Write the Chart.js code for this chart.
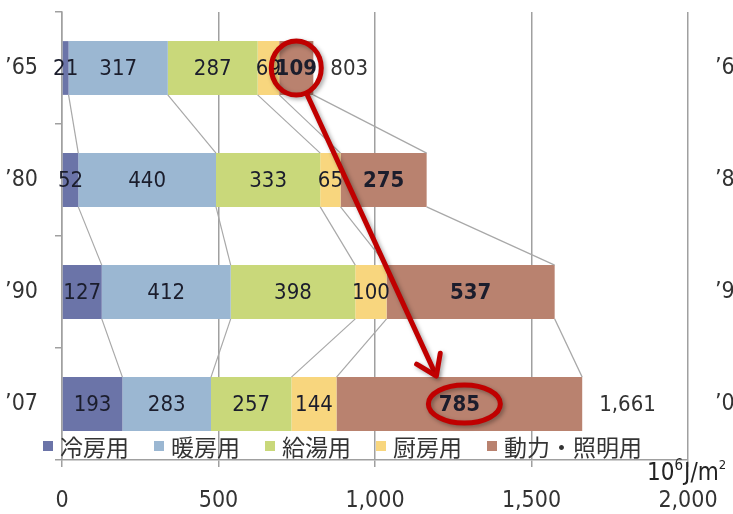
<!DOCTYPE html>
<html><head><meta charset="utf-8">
<script src="https://cdn.jsdelivr.net/npm/chart.js@4.4.1/dist/chart.umd.min.js"></script>
<style>html,body{margin:0;padding:0;background:#fff;overflow:hidden}canvas{display:block}</style>
</head><body>
<canvas id="c" width="733" height="514"></canvas>
<script>
// ---- data ----
const categories = ['\u201965', '\u201980', '\u201990', '\u201907'];
const seriesNames = ['冷房用', '暖房用', '給湯用', '厨房用', '動力・照明用'];
const cooling = [21, 52, 127, 193];
const heating = [317, 440, 412, 283];
const hotWater = [287, 333, 398, 257];
const kitchen = [69, 65, 100, 144];
const powerLighting = [109, 275, 537, 785];
const totalLabels = ['803', '', '', '1,661'];
const xTickValues = [0, 500, 1000, 1500, 2000];
const xTickLabels = ['0', '500', '1,000', '1,500', '2,000'];
const unitBase = '10', unitExp = '6', unitRest = 'J/m', unitExp2 = '2';
const highlightSeries = 4;            // 動力・照明用
const highlightFrom = 0, highlightTo = 3; // '65 -> '07

// ---- style ----
const colors = ['#6b74a8', '#9bb7d2', '#c9d87a', '#f8d67e', '#b9826f'];
const gridColor = '#a0a0a0';
const NUM_FONT = "'DejaVu Sans Condensed', 'Liberation Sans Narrow', 'Noto Sans CJK JP', sans-serif";
const CJK_FONT = "'Noto Sans CJK JP', sans-serif";
const boldSeries = [false, false, false, false, true];

const seriesValues = [cooling, heating, hotWater, kitchen, powerLighting];

const connectorPlugin = {
  id: 'connectors',
  afterDatasetsDraw(chart) {
    const ctx = chart.ctx;
    ctx.save();
    ctx.strokeStyle = '#a8a8a8';
    ctx.lineWidth = 1.2;
    for (let k = 0; k < chart.data.datasets.length; k++) {
      const meta = chart.getDatasetMeta(k);
      for (let i = 0; i < categories.length - 1; i++) {
        const a = meta.data[i], b = meta.data[i + 1];
        ctx.beginPath();
        ctx.moveTo(a.x, a.y + a.height / 2);
        ctx.lineTo(b.x, b.y - b.height / 2);
        ctx.stroke();
      }
    }
    ctx.restore();
  }
};

const labelPlugin = {
  id: 'segLabels',
  afterDatasetsDraw(chart) {
    const ctx = chart.ctx;
    ctx.save();
    ctx.textAlign = 'center';
    ctx.textBaseline = 'middle';
    chart.data.datasets.forEach((ds, k) => {
      const meta = chart.getDatasetMeta(k);
      meta.data.forEach((el, i) => {
        ctx.font = (boldSeries[k] ? 'bold ' : '') + '22px ' + NUM_FONT;
        ctx.fillStyle = '#1b1d2c';
        ctx.fillText(String(ds.data[i]), (el.x + el.base) / 2, el.y + 1);
      });
    });
    // totals
    const last = chart.getDatasetMeta(chart.data.datasets.length - 1);
    ctx.textAlign = 'left';
    ctx.font = '22px ' + NUM_FONT;
    ctx.fillStyle = '#333';
    totalLabels.forEach((t, i) => {
      if (!t) return;
      const el = last.data[i];
      ctx.fillText(t, el.x + 17, el.y + 1);
    });
    ctx.restore();
  }
};

const legendPlugin = {
  id: 'innerLegend',
  afterDraw(chart) {
    const ctx = chart.ctx;
    ctx.save();
    ctx.font = '23px ' + CJK_FONT;
    ctx.textBaseline = 'middle';
    ctx.textAlign = 'left';
    let x = 43;
    const y = chart.chartArea.bottom - 14;
    chart.data.datasets.forEach((ds) => {
      ctx.fillStyle = ds.backgroundColor;
      ctx.fillRect(x, y - 5, 10, 10);
      ctx.fillStyle = '#333';
      ctx.fillText(ds.label, x + 17, y + 1);
      x += 17 + ctx.measureText(ds.label).width + 25;
    });
    // unit label
    ctx.fillStyle = '#222';
    ctx.textBaseline = 'alphabetic';
    const base = chart.chartArea.bottom + 20;
    let ux = 647;
    ctx.font = '24px ' + NUM_FONT;
    ctx.fillText(unitBase, ux, base); ux += ctx.measureText(unitBase).width;
    ctx.font = '15px ' + NUM_FONT;
    ctx.fillText(unitExp, ux, base - 10); ux += ctx.measureText(unitExp).width + 1;
    ctx.font = '24px ' + NUM_FONT;
    ctx.fillText(unitRest, ux, base); ux += ctx.measureText(unitRest).width;
    ctx.font = '13px ' + NUM_FONT;
    ctx.fillText(unitExp2, ux, base - 11);
    ctx.restore();
  }
};

const annotationPlugin = {
  id: 'highlight',
  afterDraw(chart) {
    const ctx = chart.ctx;
    const meta = chart.getDatasetMeta(highlightSeries);
    const a = meta.data[highlightFrom], b = meta.data[highlightTo];
    const c1 = { x: (a.x + a.base) / 2, y: a.y, rx: 25, ry: 27 };
    const c2 = { x: (b.x + b.base) / 2 + 5, y: b.y, rx: 36, ry: 19 };
    ctx.save();
    ctx.shadowColor = 'rgba(0,0,0,0.35)';
    ctx.shadowBlur = 4;
    ctx.shadowOffsetX = 2;
    ctx.shadowOffsetY = 2;
    ctx.strokeStyle = '#c00000';
    ctx.lineWidth = 5;
    [c1, c2].forEach(c => {
      ctx.beginPath();
      ctx.ellipse(c.x, c.y, c.rx, c.ry, 0, 0, Math.PI * 2);
      ctx.stroke();
    });
    const sx = c1.x + 11, sy = c1.y + c1.ry;
    const ex = c2.x - 28, ey = c2.y - 28;
    const ang = Math.atan2(ey - sy, ex - sx);
    ctx.lineCap = 'round';
    ctx.lineJoin = 'round';
    ctx.beginPath();
    ctx.moveTo(sx, sy);
    ctx.lineTo(ex - 4 * Math.cos(ang), ey - 4 * Math.sin(ang));
    ctx.stroke();
    const L = 23, spread = 0.6;
    ctx.beginPath();
    ctx.moveTo(ex - L * Math.cos(ang - spread), ey - L * Math.sin(ang - spread));
    ctx.lineTo(ex, ey);
    ctx.lineTo(ex - L * Math.cos(ang + spread), ey - L * Math.sin(ang + spread));
    ctx.stroke();
    ctx.restore();
  }
};

const noVPad = s => { s.paddingTop = 0; s.paddingBottom = 0; };

new Chart(document.getElementById('c'), {
  type: 'bar',
  data: {
    labels: categories,
    datasets: seriesNames.map((name, k) => ({
      label: name,
      data: seriesValues[k],
      backgroundColor: colors[k],
      borderWidth: 0,
      barPercentage: 0.48,
      categoryPercentage: 1.0
    }))
  },
  options: {
    indexAxis: 'y',
    responsive: false,
    animation: false,
    devicePixelRatio: 1,
    layout: { padding: { top: 12, left: 0, right: 0, bottom: 0 } },
    plugins: { legend: { display: false }, tooltip: { enabled: false } },
    scales: {
      x: {
        stacked: true, min: 0, max: 2000, position: 'bottom',
        afterBuildTicks: s => { s.ticks = xTickValues.map(v => ({ value: v })); },
        grid: { color: gridColor, lineWidth: 1.5, tickLength: 7, drawTicks: true },
        border: { display: true, color: gridColor, width: 1.5 },
        ticks: {
          callback: (v, i) => xTickLabels[i],
          font: { family: NUM_FONT, size: 23 }, color: '#333', padding: 20, maxRotation: 0
        },
        afterFit: s => { s.height = 54; s.paddingLeft = 0; s.paddingRight = 0; }
      },
      y: {
        stacked: true, position: 'left',
        grid: { offset: true, drawOnChartArea: false, tickLength: 7, color: gridColor, lineWidth: 1.5 },
        border: { display: true, color: gridColor, width: 1.5 },
        ticks: { font: { family: NUM_FONT, size: 23 }, color: '#333', padding: 17 },
        afterFit: s => { s.width = 62; noVPad(s); }
      },
      y2: {
        type: 'category', labels: categories, position: 'right', offset: true,
        grid: { display: false, drawTicks: false },
        border: { display: false },
        ticks: { font: { family: NUM_FONT, size: 23 }, color: '#333', padding: 27 },
        afterFit: s => { s.width = 45; noVPad(s); }
      }
    }
  },
  plugins: [connectorPlugin, labelPlugin, legendPlugin, annotationPlugin]
});
</script></body></html>
